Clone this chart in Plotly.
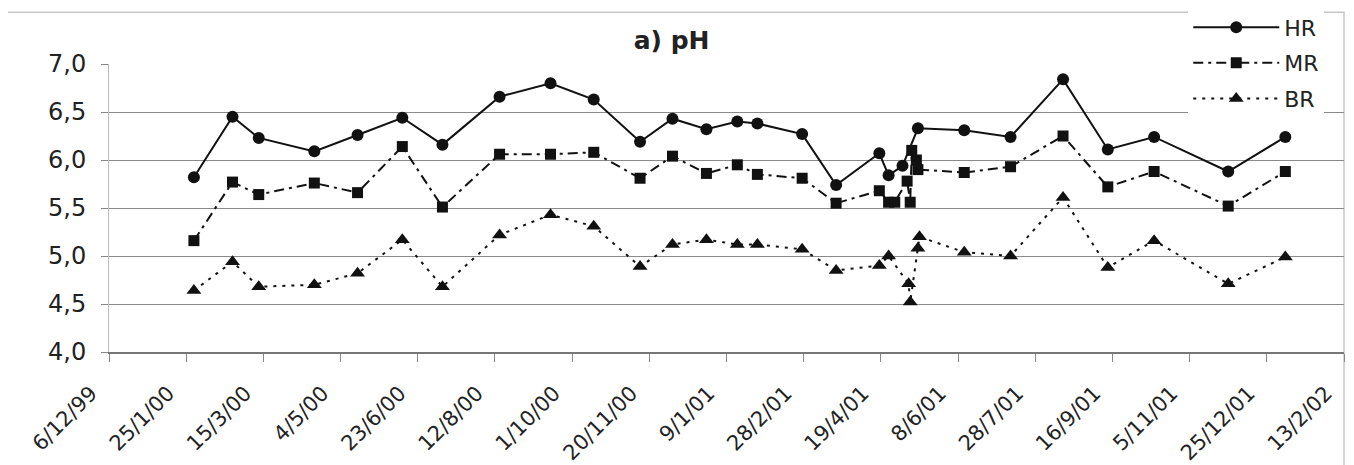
import plotly.graph_objects as go

# fechas de muestreo y valores de pH por serie
hr_dates = ["2000-01-30", "2000-02-24", "2000-03-12", "2000-04-17", "2000-05-15", "2000-06-13",
            "2000-07-09", "2000-08-15", "2000-09-17", "2000-10-15", "2000-11-14", "2000-12-05",
            "2000-12-27", "2001-01-16", "2001-01-29", "2001-02-27", "2001-03-21", "2001-04-18",
            "2001-04-24", "2001-05-03", "2001-05-13", "2001-06-12", "2001-07-12", "2001-08-15",
            "2001-09-13", "2001-10-13", "2001-11-30", "2002-01-06"]
hr_vals = [5.82, 6.45, 6.23, 6.09, 6.26, 6.44, 6.16, 6.66, 6.80, 6.63, 6.19, 6.43,
           6.32, 6.40, 6.38, 6.27, 5.74, 6.07, 5.84, 5.94, 6.33, 6.31, 6.24, 6.84,
           6.11, 6.24, 5.88, 6.24]

mr_dates = ["2000-01-30", "2000-02-24", "2000-03-12", "2000-04-17", "2000-05-15", "2000-06-13",
            "2000-07-09", "2000-08-15", "2000-09-17", "2000-10-15", "2000-11-14", "2000-12-05",
            "2000-12-27", "2001-01-16", "2001-01-29", "2001-02-27", "2001-03-21", "2001-04-18",
            "2001-04-24", "2001-04-28", "2001-05-06", "2001-05-08", "2001-05-09", "2001-05-12",
            "2001-05-13", "2001-06-12", "2001-07-12", "2001-08-15", "2001-09-13", "2001-10-13",
            "2001-11-30", "2002-01-06"]
mr_vals = [5.16, 5.77, 5.64, 5.76, 5.66, 6.14, 5.51, 6.06, 6.06, 6.08, 5.81, 6.04,
           5.86, 5.95, 5.85, 5.81, 5.55, 5.68, 5.56, 5.56, 5.78, 5.56, 6.10, 6.00,
           5.90, 5.87, 5.93, 6.25, 5.72, 5.88, 5.52, 5.88]

br_dates = ["2000-01-30", "2000-02-24", "2000-03-12", "2000-04-17", "2000-05-15", "2000-06-13",
            "2000-07-09", "2000-08-15", "2000-09-17", "2000-10-15", "2000-11-14", "2000-12-05",
            "2000-12-27", "2001-01-16", "2001-01-29", "2001-02-27", "2001-03-21", "2001-04-18",
            "2001-04-24", "2001-05-07", "2001-05-08", "2001-05-13", "2001-05-14", "2001-06-12",
            "2001-07-12", "2001-08-15", "2001-09-13", "2001-10-13", "2001-11-30", "2002-01-06"]
br_vals = [4.64, 4.94, 4.68, 4.70, 4.82, 5.17, 4.68, 5.22, 5.43, 5.31, 4.89, 5.12,
           5.17, 5.12, 5.12, 5.07, 4.85, 4.90, 5.00, 4.71, 4.52, 5.08, 5.20, 5.04,
           5.00, 5.61, 4.88, 5.16, 4.71, 4.99]

tick_dates = ["1999-12-06", "2000-01-25", "2000-03-15", "2000-05-04", "2000-06-23", "2000-08-12",
              "2000-10-01", "2000-11-20", "2001-01-09", "2001-02-28", "2001-04-19", "2001-06-08",
              "2001-07-28", "2001-09-16", "2001-11-05", "2001-12-25", "2002-02-13"]
tick_text = ["6/12/99", "25/1/00", "15/3/00", "4/5/00", "23/6/00", "12/8/00", "1/10/00",
             "20/11/00", "9/1/01", "28/2/01", "19/4/01", "8/6/01", "28/7/01", "16/9/01",
             "5/11/01", "25/12/01", "13/2/02"]

FONT = "DejaVu Sans"
INK = "#111111"

fig = go.Figure()

fig.add_trace(go.Scatter(
    x=hr_dates, y=hr_vals, name="HR", mode="lines+markers", legendgroup="hr",
    line=dict(color=INK, width=2),
    marker=dict(symbol="circle", size=12, color=INK),
))
fig.add_trace(go.Scatter(
    x=mr_dates, y=mr_vals, name="MR", mode="lines+markers", legendgroup="mr",
    line=dict(color=INK, width=2, dash="10px,5px,3px,5px"),
    marker=dict(symbol="square", size=11, color=INK),
))
fig.add_trace(go.Scatter(
    x=br_dates, y=br_vals, name="BR", mode="lines+markers", legendgroup="br",
    line=dict(color=INK, width=2, dash="3px,6px"),
    marker=dict(symbol="triangle-up", size=13, color=INK),
))

# marco gris del gráfico
fig.add_shape(type="rect", xref="paper", yref="paper",
              x0=-0.083, x1=1.0, y0=-0.45, y1=1.18,
              line=dict(color="#c8c8c8", width=1.5), layer="below")

# la página deja 8 px de margen, de ahí el tamaño algo menor
fig.update_layout(
    width=1346, height=457,
    margin=dict(l=101, r=10, t=56, b=113, autoexpand=False),
    paper_bgcolor="white", plot_bgcolor="white",
    separators=", ",
    font=dict(family=FONT, color="#222222", size=20),
    title=dict(text="<b>a) pH</b>", x=0.493, xanchor="center", y=0.93, yanchor="middle",
               font=dict(family=FONT, size=25, color="#222222")),
    showlegend=True,
    legend=dict(x=0.984, xanchor="right", y=1.2, yanchor="top",
                bgcolor="white", borderwidth=0, itemwidth=86, tracegroupgap=4,
                font=dict(family=FONT, size=22, color="#222222")),
    xaxis=dict(
        type="date", automargin=False,
        range=["1999-12-06", "2002-02-13"],
        tickmode="array", tickvals=tick_dates, ticktext=tick_text,
        tickangle=-45, ticks="outside", ticklen=8, tickcolor="#888888",
        showgrid=False, showline=True, linecolor="#777777", linewidth=1.5,
        ticklabelshift=-18, ticklabelstandoff=11,
        tickfont=dict(family=FONT, size=21, color="#222222"),
        zeroline=False,
    ),
    yaxis=dict(
        range=[4, 7], dtick=0.5, tickformat=".1f", automargin=False,
        ticks="outside", ticklen=7, tickcolor="#888888",
        showgrid=True, gridcolor="#8a8a8a", gridwidth=1,
        showline=True, linecolor="#bbbbbb", linewidth=1,
        ticklabelstandoff=10,
        tickfont=dict(family=FONT, size=24, color="#222222"),
        zeroline=False,
    ),
)

fig.write_html("out.html")
